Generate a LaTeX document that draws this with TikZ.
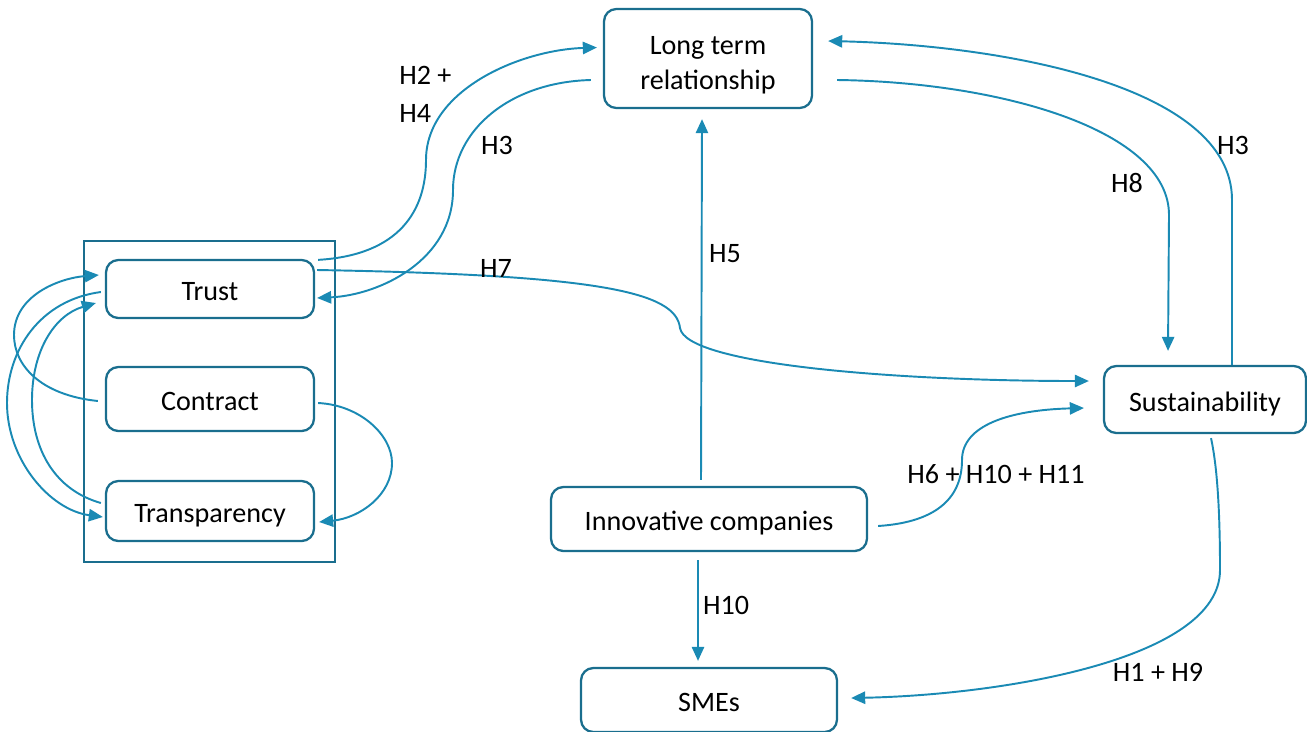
\documentclass[tikz,border=0pt]{standalone}
\usepackage{fontspec}
\setmainfont{Carlito}
\usetikzlibrary{arrows.meta}
\definecolor{boxteal}{RGB}{26,110,142}
\definecolor{arrowblue}{RGB}{26,138,180}

\begin{document}
\begin{tikzpicture}[x=0.02cm,y=-0.02cm]

    \tikzset{
      BoxStyle/.style = { draw=boxteal, line width=1.3pt, rounded corners=7pt,
                          font=\fontsize{16}{20}\selectfont, align=center, inner sep=0pt },
      OneLine/.style = { BoxStyle, text height=13.5pt, text depth=0pt },
      EdgeStyle/.style = { draw=arrowblue, line width=1.1pt,
                           -{Triangle[length=8pt,width=7pt]} },
      LabelStyle/.style = { font=\fontsize{16}{20}\selectfont, inner sep=0pt } }
      \useasboundingbox (0,0) rectangle (1307,731);

      \node[draw=boxteal, line width=1.3pt, minimum width=5.02cm, minimum height=6.42cm] (group) at (209.5,401.5) {};

      \node[OneLine, minimum width=4.16cm, minimum height=1.16cm] (trust) at (210,289) {Trust};
      \node[OneLine, minimum width=4.16cm, minimum height=1.28cm] (contract) at (210,399) {Contract};
      \node[OneLine, minimum width=4.16cm, minimum height=1.2cm] (transp) at (210,511) {Transparency};

      \node[BoxStyle, minimum width=4.16cm, minimum height=1.98cm] (ltr) at (708,58.5) {\rule{0pt}{18pt}Long term\\relationship};
      \node[OneLine, minimum width=4.04cm, minimum height=1.34cm] (sust) at (1205,399.5) {Sustainability};
      \node[OneLine, minimum width=6.32cm, minimum height=1.28cm] (inno) at (709,519) {Innovative companies};
      \node[OneLine, minimum width=5.12cm, minimum height=1.28cm] (smes) at (709,700) {SMEs};

      % trust block to long term relationship
      \draw[EdgeStyle] ([shift={(3,1)}]trust.north east) .. controls (400,255) and (426,210) .. (426,160)
        .. controls (426,90) and (520,50) .. ([shift={(-6,-11)}]ltr.west);
      \draw[EdgeStyle] ([shift={(-12,21.5)}]ltr.west) .. controls (510,82) and (453,130) .. (453,190)
        .. controls (453,260) and (380,295) .. ([shift={(2,9)}]trust.east);
      \draw[EdgeStyle] ([shift={(2,-19)}]trust.east) .. controls (600,275) and (676,292) .. (680,328)
        .. controls (686,365) and (900,381) .. ([shift={(-14,-18.5)}]sust.west);

      % inside the block
      \draw[EdgeStyle] ([shift={(-7,2)}]contract.west) .. controls (40,395) and (14,365) .. (14,335)
        .. controls (14,295) and (60,278) .. ([shift={(-6,-14)}]trust.west);
      \draw[EdgeStyle] ([shift={(-4,3)}]trust.west) .. controls (40,300) and (7,350) .. (7,403)
        .. controls (7,460) and (50,510) .. ([shift={(-2,6)}]transp.west);
      \draw[EdgeStyle] ([shift={(-4,-8)}]transp.west) .. controls (55,490) and (32,450) .. (32,400)
        .. controls (32,350) and (55,315) .. ([shift={(-9,14)}]trust.west);
      \draw[EdgeStyle] ([shift={(3,4)}]contract.east) .. controls (360,405) and (392,435) .. (392,463)
        .. controls (392,495) and (360,518) .. ([shift={(4,11)}]transp.east);

      % long term relationship and sustainability
      \draw[EdgeStyle] ([shift={(24,21.5)}]ltr.east) .. controls (1000,82) and (1169,130) .. (1169,215)
        -- ([shift={(-37,-14)}]sust.north);
      \draw[EdgeStyle] ([shift={(27,0)}]sust.north) -- (1232,200)
        .. controls (1232,85) and (1000,45) .. ([shift={(15,-17.5)}]ltr.east);

      % innovative companies
      \draw[EdgeStyle] ([shift={(-8,-6)}]inno.north) -- ([shift={(-6,10)}]ltr.south);
      \draw[EdgeStyle] ([shift={(10,7)}]inno.east) .. controls (940,522) and (962,495) .. (962,460)
        .. controls (962,425) and (1010,410) .. ([shift={(-19,8.5)}]sust.west);
      \draw[EdgeStyle] ([shift={(-11,8)}]inno.south) -- ([shift={(-11,-6)}]smes.north);
      \draw[EdgeStyle] ([shift={(6,4)}]sust.south) .. controls (1218,470) and (1220,520) .. (1220,570)
        .. controls (1220,660) and (1000,695) .. ([shift={(13,-2)}]smes.east);

      \node[LabelStyle, anchor=west] (h2) at (399,75) {H2 +};
      \node[LabelStyle, anchor=west] (h4) at (399,113) {H4};
      \node[LabelStyle] (h3a) at (497,145) {H3};
      \node[LabelStyle] (h7) at (496,268) {H7};
      \node[LabelStyle] (h5) at (725,254) {H5};
      \node[LabelStyle] (h8) at (1127,183) {H8};
      \node[LabelStyle] (h3b) at (1233,145) {H3};
      \node[LabelStyle] (h6) at (996,474) {H6 + H10 + H11};
      \node[LabelStyle] (h10) at (726,605) {H10};
      \node[LabelStyle] (h1) at (1158,672) {H1 + H9};
    \end{tikzpicture}
\end{document}
